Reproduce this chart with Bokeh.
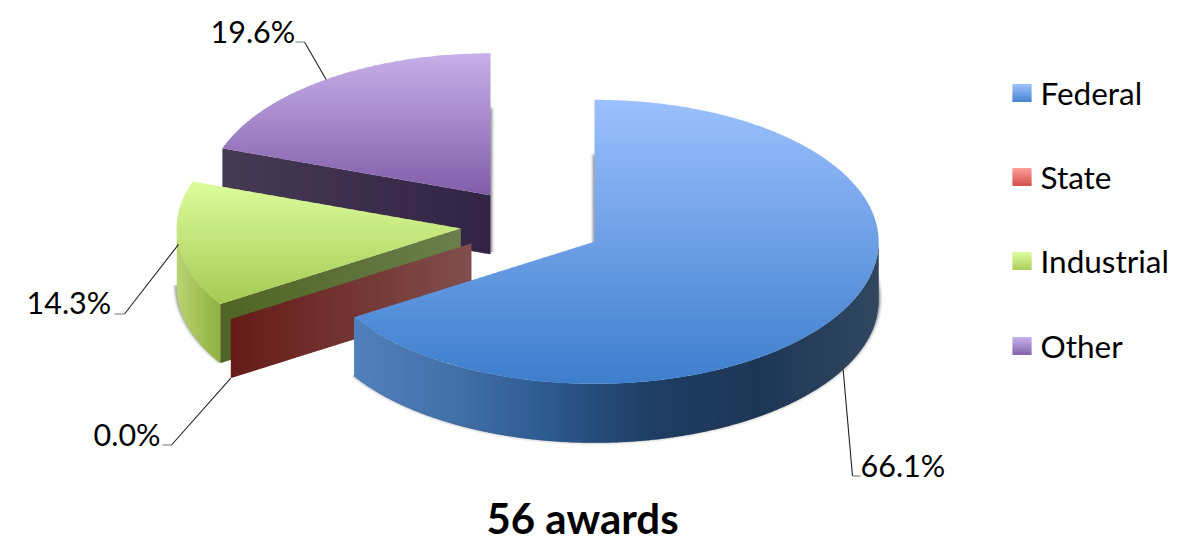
import math
from bokeh.plotting import figure
from bokeh.embed import file_html
from bokeh.resources import INLINE
from bokeh.core.properties import value

# ---- data
categories = ["Federal", "State", "Industrial", "Other"]
awards = [37, 0, 8, 11]
total_awards = sum(awards)
title_text = f"{total_awards} awards"
pct_labels = [f"{100 * a / total_awards:.1f}%" for a in awards]

# ---- style: gradient colour stops
top_stops = {
    "Federal": ("#9cc0fd", "#3d7ecc"),
    "Other": ("#c7afe9", "#805da9"),
    "Industrial": ("#dcfc9c", "#a5c954"),
}
swatch_stops = [("#9cc0fd", "#4480cc"), ("#fe9c99", "#d04c48"), ("#dcfc9c", "#a8cc58"), ("#c7afe9", "#8060a8")]
outer_wall_stops = {
    "Federal": [(354, "#5080bd"), (450, "#4470a8"), (545, "#2d5a90"), (650, "#1e3d63"), (760, "#1c3655"), (879, "#31465f")],
    "Industrial": [(178, "#b8d472"), (220, "#90b142")],
}
inner_wall_stops = {
    "Other": ("#463a54", "#332445"),
    "Industrial": ("#4f6424", "#6b7f4c"),
    "State": ("#661c19", "#814f4d"),
}

# ---- layout
CX, CY, RX, RY, DEPTH, EXPLODE = 532.4, 225.5, 284.0, 142.0, 59.0, 71.6
LEADER_TXT = {"Federal": (861, 466), "State": (94, 435), "Industrial": (27, 303), "Other": (211, 32)}
LEADER_ELBOW = {"Federal": ((853, 477), (861, 477)), "State": ((172, 446), (163, 446)),
                "Industrial": ((125, 315), (115, 315)), "Other": ((305, 43), (296, 43))}
LEGEND_Y = [94, 178, 262, 347]


def hex2rgb(h):
    return tuple(int(h[i:i + 2], 16) for i in (1, 3, 5))


def mix(a, b, t):
    ca, cb = hex2rgb(a), hex2rgb(b)
    return "#%02x%02x%02x" % tuple(round(ca[i] + (cb[i] - ca[i]) * t) for i in range(3))


def stops_color(stops, x):
    if x <= stops[0][0]:
        return stops[0][1]
    for (x0, c0), (x1, c1) in zip(stops, stops[1:]):
        if x <= x1:
            return mix(c0, c1, (x - x0) / (x1 - x0))
    return stops[-1][1]


def clip(poly, axis, lo, hi):
    def half(pts, keep, cross):
        out = []
        for i, p in enumerate(pts):
            q = pts[(i + 1) % len(pts)]
            kp, kq = keep(p), keep(q)
            if kp:
                out.append(p)
            if kp != kq:
                t = (cross - p[axis]) / (q[axis] - p[axis])
                out.append((p[0] + t * (q[0] - p[0]), p[1] + t * (q[1] - p[1])))
        return out
    pts = half(poly, lambda p: p[axis] >= lo, lo)
    if pts:
        pts = half(pts, lambda p: p[axis] <= hi, hi)
    return pts


def strips(poly, axis, colorfn, step=2.0):
    lo = min(p[axis] for p in poly)
    hi = max(p[axis] for p in poly)
    xs, ys, cs = [], [], []
    v = lo
    while v < hi:
        pts = clip(poly, axis, v, min(hi, v + step + 0.8))
        if len(pts) >= 3:
            xs.append([p[0] for p in pts])
            ys.append([p[1] for p in pts])
            cs.append(colorfn((v - lo) / (hi - lo), v + step / 2))
        v += step
    p.patches(xs, ys, fill_color=cs, line_color=None)


def pt(apex, deg, dz=0.0):
    a = math.radians(deg)
    return (apex[0] + RX * math.sin(a), apex[1] - RY * math.cos(a) + dz)


def arc(apex, a0, a1, dz=0.0):
    n = max(2, int(abs(a1 - a0) * 1.5))
    return [pt(apex, a0 + (a1 - a0) * i / n, dz) for i in range(n + 1)]


p = figure(width=1184, height=547, x_range=(1, 1185), y_range=(548.5, 1.5),
           output_backend="svg", toolbar_location=None, min_border=0)
p.axis.visible = False
p.grid.visible = False
p.outline_line_color = None

# ---- slice geometry derived from the values
angles = {}
cum = 0.0
for c, a in zip(categories, awards):
    sweep = 360.0 * a / total_awards
    angles[c] = (cum, cum + sweep)
    cum += sweep


def apex_of(c):
    a0, a1 = angles[c]
    m = math.radians((a0 + a1) / 2)
    return (CX + EXPLODE * math.sin(m), CY - EXPLODE * 0.5 * math.cos(m))


def shadow(path):
    for w, al in ((8, 0.10), (5, 0.16), (3, 0.25)):
        p.line([q[0] for q in path], [q[1] for q in path], line_color="#404040",
               line_width=w, line_alpha=al, line_join="round")


def inner_wall(c, deg):
    ap = apex_of(c)
    e = pt(ap, deg)
    poly = [e, ap, (ap[0], ap[1] + DEPTH), (e[0], e[1] + DEPTH)]
    c0, c1 = inner_wall_stops[c]
    strips(poly, 0, lambda t, v: mix(c0, c1, t))


def outer_wall(c, a0, a1):
    ap = apex_of(c)
    poly = arc(ap, a0, a1) + arc(ap, a1, a0, DEPTH)
    st = outer_wall_stops[c]
    strips(poly, 0, lambda t, v: stops_color(st, v))


def top(c):
    ap = apex_of(c)
    a0, a1 = angles[c]
    poly = [ap] + arc(ap, a0, a1)
    c0, c1 = top_stops[c]
    strips(poly, 1, lambda t, v: mix(c0, c1, t))


# Other
ap = apex_of("Other")
a0, a1 = angles["Other"]
shadow(arc(ap, a0, a1, DEPTH - 2) + [(ap[0], ap[1] + DEPTH - 2)])
inner_wall("Other", a0)
top("Other")

# Industrial
ap = apex_of("Industrial")
a0, a1 = angles["Industrial"]
shadow(arc(ap, a0, 270, DEPTH - 2))
outer_wall("Industrial", a0, 270)
inner_wall("Industrial", a0)
top("Industrial")

# State (zero share: just its cut wall)
inner_wall("State", angles["State"][0])

# Federal
ap = apex_of("Federal")
a0, a1 = angles["Federal"]
shadow([(ap[0], ap[1] + DEPTH - 2)] + arc(ap, a0, a1, DEPTH - 2))
outer_wall("Federal", 90, a1)
top("Federal")

# ---- leader lines and percent labels
anchors = {}
for c in categories:
    a0, a1 = angles[c]
    m = (a0 + a1) / 2
    dz = DEPTH if 90 < m < 260 else 0
    anchors[c] = pt(apex_of(c), m, dz)

for c, lab in zip(categories, pct_labels):
    (ex, ey), (hx, hy) = LEADER_ELBOW[c]
    ax, ay = anchors[c]
    p.line([ax, ex], [ay, ey], line_color="#222222", line_width=1.1)
    p.line([ex, hx], [ey, hy], line_color="#777777", line_width=1.1)
    tx, ty = LEADER_TXT[c]
    p.text([tx], [ty], text=[lab], text_font=value("Lato"), text_font_size="30.5px",
           text_color="#000000", text_align="left", text_baseline="middle")

# ---- legend
for i, (c, y, st) in enumerate(zip(categories, LEGEND_Y, swatch_stops)):
    poly = [(1013, y - 9), (1032, y - 9), (1032, y + 9), (1013, y + 9)]
    strips(poly, 1, lambda t, v, st=st: mix(st[0], st[1], t), step=1.5)
    p.text([1041], [y], text=[c], text_font=value("Lato"), text_font_size="31.5px",
           text_color="#000000", text_align="left", text_baseline="middle")

# ---- title
p.text([583], [519], text=[title_text], text_font=value("Lato"), text_font_size="42px",
       text_font_style="bold", text_color="#000000", text_align="center", text_baseline="middle")

open("out.html", "w").write(file_html(p, INLINE))
